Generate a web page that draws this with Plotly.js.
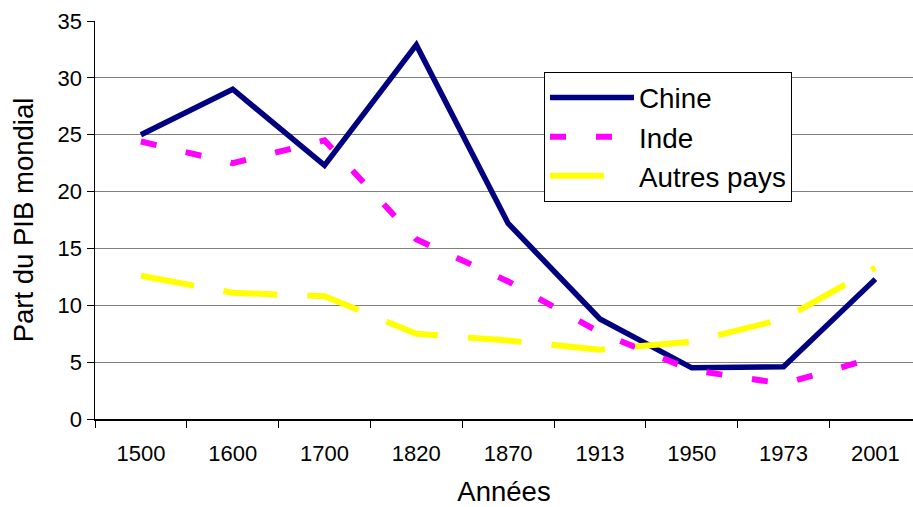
<!DOCTYPE html>
<html>
<head>
<meta charset="utf-8">
<script src="https://cdn.plot.ly/plotly-3.0.1.min.js"></script>
<style>html,body{margin:0;padding:0;background:#fff;}</style>
</head>
<body>
<div id="chart" style="width:913px;height:507px;"></div>
<script>
var years = ["1500", "1600", "1700", "1820", "1870", "1913", "1950", "1973", "2001"];
var chine = [25.0, 29.0, 22.3, 32.9, 17.2, 8.8, 4.5, 4.6, 12.3];
var inde = [24.4, 22.5, 24.5, 15.8, 12.1, 7.6, 4.3, 3.1, 5.4];
var autres = [12.6, 11.1, 10.8, 7.5, 6.9, 6.1, 6.8, 8.8, 13.3];
var yTicks = [0, 5, 10, 15, 20, 25, 30, 35];

var FONT = "Liberation Sans, Arial, sans-serif";

var traces = [
  {x: years, y: chine, name: "Chine", type: "scatter", mode: "lines",
   line: {color: "#000080", width: 5.5}},
  {x: years, y: inde, name: "Inde", type: "scatter", mode: "lines",
   line: {color: "#FF00FF", width: 6, dash: "16px,30px"}},
  {x: years, y: autres, name: "Autres pays", type: "scatter", mode: "lines",
   line: {color: "#FFFF00", width: 6, dash: "54px,30px"}}
];

var layout = {
  width: 913, height: 507,
  margin: {l: 95, r: 0, t: 21, b: 88},
  paper_bgcolor: "#fff", plot_bgcolor: "#fff",
  font: {family: FONT, color: "#000", size: 22},
  showlegend: true,
  legend: {
    x: (544 - 95) / 818, y: (419 - 72) / 398, xanchor: "left", yanchor: "top",
    bgcolor: "#fff", bordercolor: "#000", borderwidth: 1,
    font: {family: FONT, size: 27.8, color: "#000"},
    itemwidth: 84
  },
  xaxis: {
    type: "category",
    range: [-0.5, 8.41],
    tickson: "boundaries",
    ticks: "outside", ticklen: 7, tickcolor: "#000", tickwidth: 1,
    ticklabelstandoff: 14,
    showgrid: false, zeroline: false,
    showline: true, linecolor: "#000", linewidth: 1.5,
    tickfont: {family: FONT, size: 22, color: "#000"},
    title: {text: "Années", font: {family: FONT, size: 27.5, color: "#000"}, standoff: 18},
    fixedrange: true
  },
  yaxis: {
    range: [0, 35],
    tickvals: yTicks,
    ticks: "outside", ticklen: 7, tickcolor: "#000", tickwidth: 1,
    showgrid: true, gridcolor: "#808080", gridwidth: 1,
    zeroline: false,
    showline: true, linecolor: "#000", linewidth: 1.5,
    tickfont: {family: FONT, size: 22, color: "#000"},
    title: {text: "Part du PIB mondial", font: {family: FONT, size: 27.5, color: "#000"}, standoff: 16},
    fixedrange: true
  }
};

Plotly.newPlot("chart", traces, layout, {displayModeBar: false, staticPlot: true});
</script>
</body>
</html>
